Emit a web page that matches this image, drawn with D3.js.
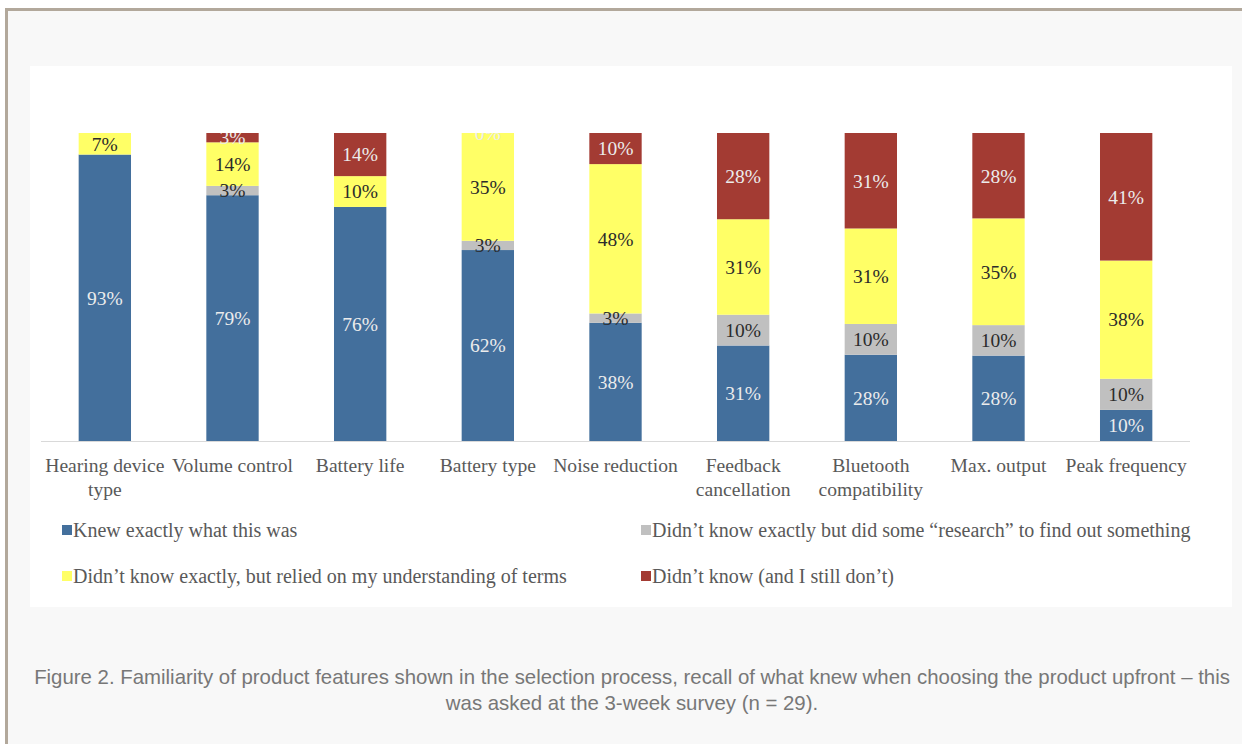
<!DOCTYPE html>
<html>
<head>
<meta charset="utf-8">
<script src="https://cdn.jsdelivr.net/npm/d3@7/dist/d3.min.js"></script>
<style>
  html, body { margin: 0; padding: 0; background: #ffffff; }
  svg { display: block; }
</style>
</head>
<body>
<svg id="chart" width="1242" height="744"></svg>
<script>
// Product features asked about in the survey
const categories = [
  ["Hearing device", "type"],
  ["Volume control"],
  ["Battery life"],
  ["Battery type"],
  ["Noise reduction"],
  ["Feedback", "cancellation"],
  ["Bluetooth", "compatibility"],
  ["Max. output"],
  ["Peak frequency"]
];

// Share of respondents (%) per answer, in stacking order bottom → top
const knewExactly   = [93, 79, 76, 62, 38, 31, 28, 28, 10];
const didResearch   = [0, 3, 0, 3, 3, 10, 10, 10, 10];
const reliedOnTerms = [7, 14, 10, 35, 48, 31, 31, 35, 38];
const didNotKnow    = [null, 3, 14, 0, 10, 28, 31, 28, 41];

const seriesNames = [
  "Knew exactly what this was",
  "Didn\u2019t know exactly but did some \u201cresearch\u201d to find out something",
  "Didn\u2019t know exactly, but relied on my understanding of  terms",
  "Didn\u2019t know (and I still don\u2019t)"
];
const seriesValues = [knewExactly, didResearch, reliedOnTerms, didNotKnow];
const seriesFill  = ["#436f9c", "#c0c0c0", "#ffff66", "#a33b33"];
const seriesLabel = ["#ececec", "#2b2b2b", "#2b2b2b", "#ececec"];

const svg = d3.select("#chart");
const W = 1242, H = 744;
const serif = "'Liberation Serif', 'DejaVu Serif', serif";

// Page background and frame
svg.append("rect").attr("width", W).attr("height", H).attr("fill", "#f8f8f8");
svg.append("rect").attr("x", 0).attr("y", 0).attr("width", W).attr("height", 8).attr("fill", "#ffffff");
svg.append("rect").attr("x", 0).attr("y", 0).attr("width", 5).attr("height", H).attr("fill", "#ffffff");
svg.append("rect").attr("x", 5).attr("y", 8).attr("width", W - 5).attr("height", 3).attr("fill", "#b2a89b");
svg.append("rect").attr("x", 5).attr("y", 8).attr("width", 3).attr("height", H - 8).attr("fill", "#b2a89b");

// White chart panel
svg.append("rect").attr("x", 30).attr("y", 66).attr("width", 1202).attr("height", 541).attr("fill", "#ffffff");

const plot = { left: 41, right: 1190, top: 133, bottom: 441 };

const x = d3.scaleBand()
  .domain(d3.range(categories.length))
  .range([plot.left, plot.right])
  .paddingInner(0.59)
  .paddingOuter(0.295);

// 100% stacked columns: each stack is normalised to its own total
const y = d3.scaleLinear().domain([0, 1]).range([plot.bottom, plot.top]);

const table = categories.map((c, i) => {
  const row = { i };
  seriesValues.forEach((s, k) => { row["s" + k] = s[i]; });
  return row;
});
const keys = seriesValues.map((_, k) => "s" + k);
const stacked = d3.stack()
  .keys(keys)
  .value((d, key) => d[key] || 0)
  .offset(d3.stackOffsetExpand)(table);

svg.append("clipPath").attr("id", "plotClip")
  .append("rect")
  .attr("x", plot.left - 20).attr("y", plot.top)
  .attr("width", plot.right - plot.left + 40).attr("height", plot.bottom - plot.top + 2);

const gPlot = svg.append("g").attr("clip-path", "url(#plotClip)");

stacked.forEach((layer, k) => {
  gPlot.append("g").selectAll("rect")
    .data(layer.filter(d => (d.data["s" + k] || 0) > 0))
    .join("rect")
    .attr("x", d => x(d.data.i))
    .attr("width", x.bandwidth())
    .attr("y", d => y(d[1]))
    .attr("height", d => y(d[0]) - y(d[1]))
    .attr("fill", seriesFill[k]);
});

// Value labels centred on each segment
stacked.forEach((layer, k) => {
  gPlot.append("g").selectAll("text")
    .data(layer.filter(d => {
      const v = d.data["s" + k];
      return v !== null && v !== undefined && !(k === 1 && v === 0);
    }))
    .join("text")
    .attr("x", d => x(d.data.i) + x.bandwidth() / 2)
    .attr("y", d => (y(d[0]) + y(d[1])) / 2)
    .attr("dy", "0.35em")
    .attr("text-anchor", "middle")
    .attr("font-family", serif)
    .attr("font-size", 19.5)
    .attr("fill", seriesLabel[k])
    .text(d => d.data["s" + k] + "%");
});

// Category axis line
svg.append("line")
  .attr("x1", plot.left).attr("x2", plot.right)
  .attr("y1", plot.bottom + 0.5).attr("y2", plot.bottom + 0.5)
  .attr("stroke", "#d9d9d9").attr("stroke-width", 1);

// Category labels
const catG = svg.append("g")
  .attr("font-family", serif)
  .attr("font-size", 19.6)
  .attr("fill", "#595959")
  .attr("text-anchor", "middle");
categories.forEach((lines, i) => {
  const cx = x(i) + x.bandwidth() / 2;
  const t = catG.append("text").attr("x", cx).attr("y", 472);
  lines.forEach((ln, j) => {
    t.append("tspan").attr("x", cx).attr("dy", j === 0 ? 0 : 24).text(ln);
  });
});

// Legend
const legendPos = [
  { x: 62, y: 530 },
  { x: 641, y: 530 },
  { x: 62, y: 576 },
  { x: 641, y: 576 }
];
const legG = svg.append("g")
  .attr("font-family", serif)
  .attr("font-size", 20)
  .attr("fill", "#595959");
seriesNames.forEach((name, k) => {
  const p = legendPos[k];
  legG.append("rect")
    .attr("x", p.x).attr("y", p.y - 5)
    .attr("width", 10).attr("height", 10)
    .attr("fill", seriesFill[k]);
  legG.append("text")
    .attr("x", p.x + 11).attr("y", p.y)
    .attr("dy", "0.35em")
    .text(name);
});

// Figure caption
const caption = [
  "Figure 2. Familiarity of product features shown in the selection process, recall of what knew when choosing the product upfront \u2013 this",
  "was asked at the 3-week survey (n = 29)."
];
const capG = svg.append("g")
  .attr("font-family", "'Liberation Sans', Arial, sans-serif")
  .attr("font-size", 20.4)
  .attr("fill", "#777777")
  .attr("text-anchor", "middle");
caption.forEach((ln, j) => {
  capG.append("text")
    .attr("x", 632).attr("y", 677 + j * 26)
    .attr("dy", "0.35em")
    .text(ln);
});
</script>
</body>
</html>
